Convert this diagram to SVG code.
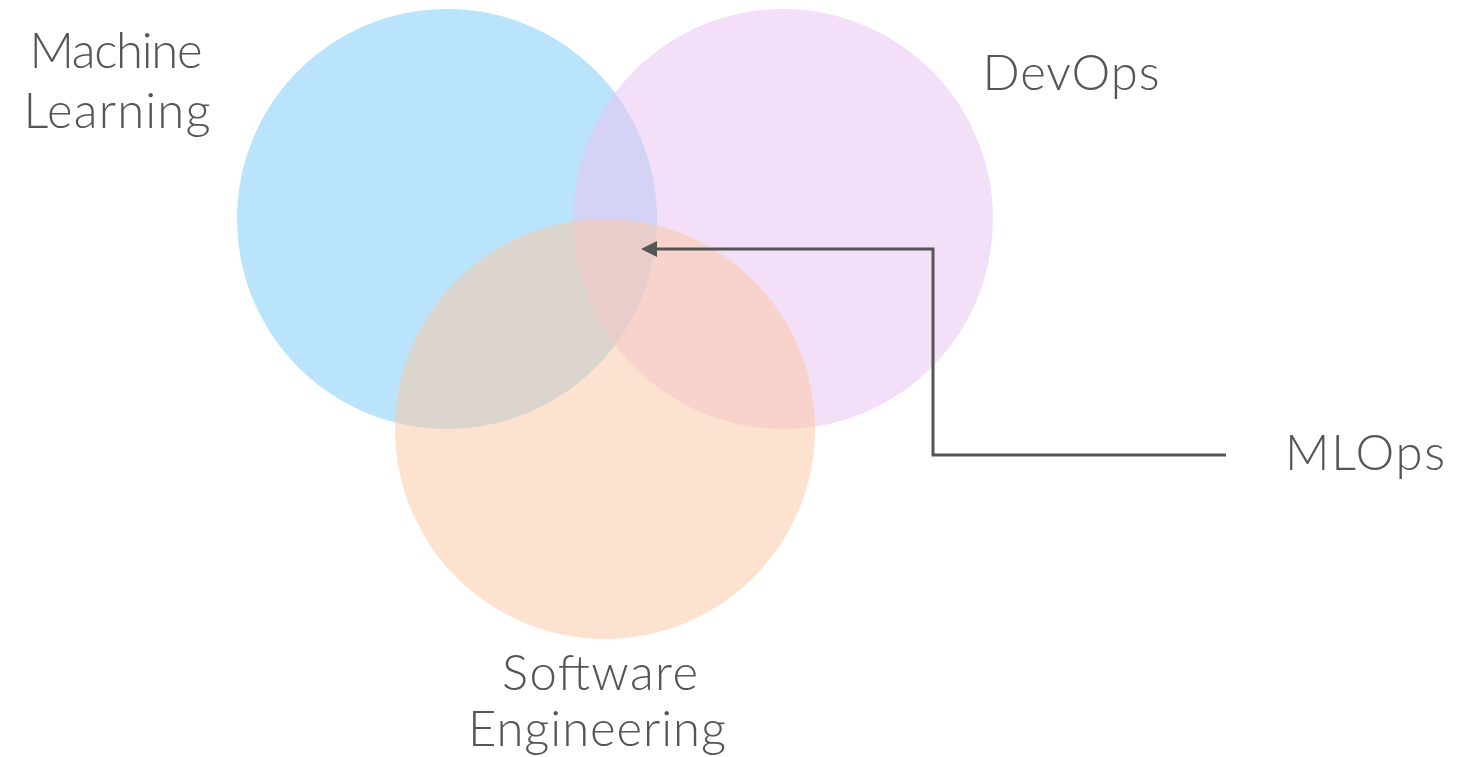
<svg xmlns="http://www.w3.org/2000/svg" width="1458" height="757" viewBox="0 0 1458 757">
<style>
.lbl{font-family:Lato,"Liberation Sans",sans-serif;font-weight:300;font-size:49px;fill:#555555;text-anchor:middle}
</style>
<rect width="1458" height="757" fill="#ffffff"/>
<g id="ml"><circle cx="447" cy="219" r="210" fill="#bae4fb"/><text class="lbl" x="116" y="68" textLength="173" lengthAdjust="spacing">Machine</text><text class="lbl" x="117" y="128" textLength="187" lengthAdjust="spacing">Learning</text></g>
<g id="devops"><circle cx="783" cy="219" r="210" fill="rgb(233,197,242)" fill-opacity="0.55"/><text class="lbl" x="1071" y="90" textLength="177" lengthAdjust="spacing">DevOps</text></g>
<g id="se"><circle cx="605" cy="429" r="210" fill="rgb(251,200,164)" fill-opacity="0.53"/><text class="lbl" x="600" y="690" textLength="196" lengthAdjust="spacing">Software</text><text class="lbl" x="597" y="746" textLength="258" lengthAdjust="spacing">Engineering</text></g>
<g id="mlops"><text class="lbl" x="1365" y="470" textLength="160" lengthAdjust="spacing">MLOps</text></g>
<g id="connectors"><path d="M1226 455 H933 V249 H657" fill="none" stroke="#555555" stroke-width="3"/><path d="M657 241 L641 249 L657 257 Z" fill="#555555"/></g>
</svg>
